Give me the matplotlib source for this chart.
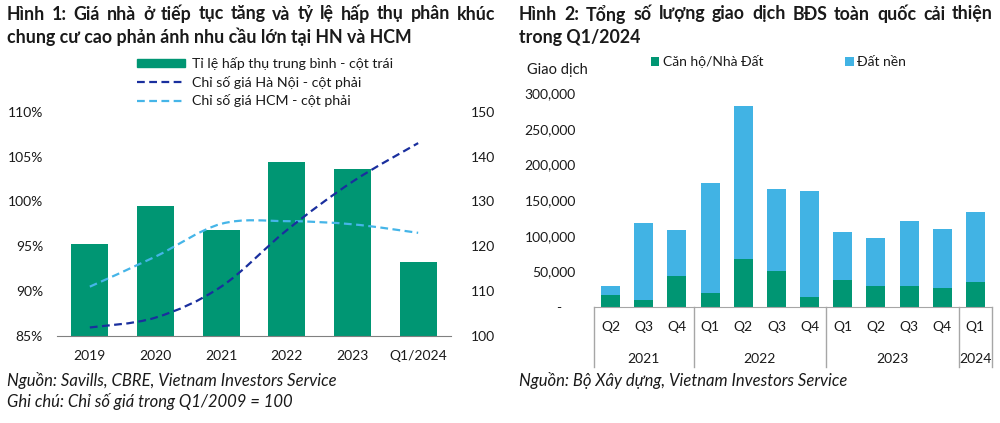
import numpy as np
import matplotlib
matplotlib.use("Agg")
import matplotlib.pyplot as plt
from matplotlib.path import Path
from matplotlib.patches import PathPatch, Patch
from matplotlib.lines import Line2D
from matplotlib.transforms import blended_transform_factory

plt.rcParams['font.family'] = ['Lato', 'Noto Sans', 'DejaVu Sans']

# --- data: chart 1 ---
years = ['2019', '2020', '2021', '2022', '2023', 'Q1/2024']
absorption = [95.2, 99.5, 96.8, 104.4, 103.6, 93.2]     # %, left axis
hn_index = [101.9, 104.1, 111.0, 123.6, 134.4, 143.0]    # right axis
hcm_index = [111.0, 117.7, 125.0, 125.6, 124.9, 123.0]   # right axis

# --- data: chart 2 ---
quarters = ['Q2', 'Q3', 'Q4', 'Q1', 'Q2', 'Q3', 'Q4', 'Q1', 'Q2', 'Q3', 'Q4', 'Q1']
quarter_years = ['2021', '2022', '2023', '2024']
quarters_per_year = [3, 4, 4, 1]
apartments = [17800, 10300, 44400, 19600, 68200, 50900, 14000, 38300, 29400, 29400, 27600, 35000]
land_plots = [11600, 108400, 63500, 154200, 214500, 115500, 149600, 67800, 67800, 91600, 81700, 98200]

GREEN = '#009673'
LIGHT_BLUE = '#41B3E4'
NAVY = '#1A2F9E'
HCM_BLUE = '#45B5E8'
TXT = '#1a1a1a'
W, H = 1000.0, 423.0


def smooth_path(xs, ys):
    """Excel-like smoothed line as bezier path in data coords"""
    pts = np.column_stack([xs, ys]).astype(float)
    verts = [pts[0]]
    codes = [Path.MOVETO]
    for i in range(len(pts) - 1):
        p0 = pts[i - 1] if i > 0 else pts[i]
        p1, p2 = pts[i], pts[i + 1]
        p3 = pts[i + 2] if i + 2 < len(pts) else p2
        verts += [p1 + (p2 - p0) / 6, p2 - (p3 - p1) / 6, p2]
        codes += [Path.CURVE4] * 3
    return Path(verts, codes)


def justified(fig, text, x0, x1, y, **kw):
    """Spread the words of one title line between x0 and x1 (pixels)"""
    renderer = fig.canvas.get_renderer()
    words = text.split()
    items = [fig.text(0, 1 - y / H, w, va='center', **kw) for w in words]
    widths = [t.get_window_extent(renderer).width for t in items]
    gap = (x1 - x0 - sum(widths)) / (len(words) - 1)
    pos = x0
    for t, wd in zip(items, widths):
        t.set_x(pos / W)
        pos += wd + gap


fig = plt.figure(figsize=(10, 4.23), dpi=100)
title_kw = dict(fontsize=12.8, fontweight='bold', color=TXT)

# titles
justified(fig, 'Hình 1: Giá nhà ở tiếp tục tăng và tỷ lệ hấp thụ phân khúc', 7, 495, 14, **title_kw)
fig.text(7 / W, 1 - 37 / H, 'chung cư cao phản ánh nhu cầu lớn tại HN và HCM', va='center', **title_kw)
justified(fig, 'Hình 2: Tổng số lượng giao dịch BĐS toàn quốc cải thiện', 519, 993, 14, **title_kw)
fig.text(519 / W, 1 - 37 / H, 'trong Q1/2024', va='center', **title_kw)

# ---------- chart 1 ----------
ax1 = fig.add_axes([0.057, 1 - 336 / H, 0.394, (336 - 111.7) / H])
x = np.arange(len(years))
ax1.bar(x, absorption, width=0.56, color=GREEN, zorder=2)
ax1.set_xlim(-0.5, len(years) - 0.5)
ax1.set_ylim(85, 110)
ax1.set_yticks(np.arange(85, 111, 5))
ax1.set_yticklabels([f'{v}%' for v in range(85, 111, 5)])
ax1.set_xticks(x)
ax1.set_xticklabels(years)
for s in ['top', 'left', 'right']:
    ax1.spines[s].set_visible(False)
ax1.spines['bottom'].set_color('#808080')
ax1.tick_params(axis='both', length=0, labelsize=10, colors=TXT)
ax1.tick_params(axis='y', pad=10)
ax1.tick_params(axis='x', pad=10)

ax2 = ax1.twinx()
ax2.set_ylim(100, 150)
ax2.set_yticks(np.arange(100, 151, 10))
for s in ['top', 'left', 'right', 'bottom']:
    ax2.spines[s].set_visible(False)
ax2.tick_params(axis='y', length=0, labelsize=10, colors=TXT, pad=14)
ax2.add_patch(PathPatch(smooth_path(x, hcm_index), fill=False, edgecolor=HCM_BLUE,
                        lw=1.6, linestyle=(0, (3.5, 2))))
ax2.add_patch(PathPatch(smooth_path(x, hn_index), fill=False, edgecolor=NAVY,
                        lw=1.6, linestyle=(0, (3.5, 2))))

handles = [Patch(color=GREEN),
           Line2D([], [], color=NAVY, lw=1.6, ls=(0, (3.5, 2))),
           Line2D([], [], color=HCM_BLUE, lw=1.6, ls=(0, (3.5, 2)))]
labels = ['Tỉ lệ hấp thụ trung bình - cột trái',
          'Chỉ số giá Hà Nội - cột phải',
          'Chỉ số giá HCM - cột phải']
fig.legend(handles, labels, loc='upper left', bbox_to_anchor=(0.137, 1 - 57 / H),
           frameon=False, fontsize=10.2, handlelength=3.4, handleheight=0.55,
           handletextpad=0.45, labelspacing=0.4, borderpad=0, borderaxespad=0,
           labelcolor=TXT)

# ---------- chart 2 ----------
ax3 = fig.add_axes([0.594, 1 - 307.3 / H, 0.398, (307.3 - 93.3) / H])
xq = np.arange(len(quarters))
ax3.bar(xq, apartments, width=0.57, color=GREEN, label='Căn hộ/Nhà Đất', zorder=2)
ax3.bar(xq, land_plots, width=0.57, bottom=apartments, color=LIGHT_BLUE,
        label='Đất nền', zorder=2)
ax3.set_xlim(-0.5, len(quarters) - 0.5)
ax3.set_ylim(0, 300000)
yt = np.arange(0, 300001, 50000)
ax3.set_yticks(yt)
ax3.set_yticklabels(['-    '] + [f'{v:,}' for v in yt[1:]])
ax3.set_xticks(xq)
ax3.set_xticklabels(quarters)
for s in ['top', 'left', 'right']:
    ax3.spines[s].set_visible(False)
ax3.spines['bottom'].set_color('#a6a6a6')
ax3.tick_params(axis='both', length=0, labelsize=10, colors=TXT)
ax3.tick_params(axis='y', pad=13)
ax3.tick_params(axis='x', pad=10)

# year groups under quarters
trans = blended_transform_factory(ax3.transData, ax3.transAxes)
bounds = np.concatenate([[0], np.cumsum(quarters_per_year)]) - 0.5
for b in bounds:
    ax3.plot([b, b], [0, -0.279], transform=trans, color='#a6a6a6', lw=1, clip_on=False)
for yr, lo, hi in zip(quarter_years, bounds[:-1], bounds[1:]):
    ax3.text((lo + hi) / 2, -0.24, yr, transform=trans, ha='center', va='center',
             fontsize=10, color=TXT)

fig.text(0.527, 1 - 70 / H, 'Giao dịch', fontsize=10.5, va='center', color=TXT)
ax3.legend(loc='upper left', bbox_to_anchor=(0.651, 1 - 55 / H),
           bbox_transform=fig.transFigure, ncol=2, frameon=False, fontsize=10,
           handlelength=0.6, handleheight=0.6, handletextpad=0.25,
           columnspacing=5.9, borderpad=0, borderaxespad=0, labelcolor=TXT)

# sources
src_kw = dict(fontsize=12, style='italic', va='center', color=TXT)
fig.text(7 / W, 1 - 380 / H, 'Nguồn: Savills, CBRE, Vietnam Investors Service', **src_kw)
fig.text(7 / W, 1 - 401 / H, 'Ghi chú: Chỉ số giá trong Q1/2009 = 100', **src_kw)
fig.text(519 / W, 1 - 380 / H, 'Nguồn: Bộ Xây dựng, Vietnam Investors Service', **src_kw)

fig.savefig('out.png', dpi=100)
